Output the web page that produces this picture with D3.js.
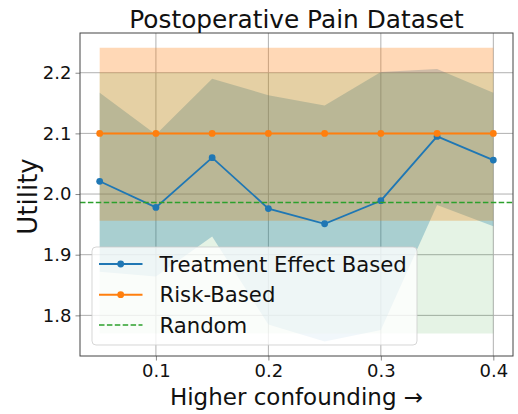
<!DOCTYPE html>
<html>
<head>
<meta charset="utf-8">
<script src="https://cdn.jsdelivr.net/npm/d3@7"></script>
<style>
  html, body { margin: 0; padding: 0; background: #fff; }
  svg { display: block; font-family: "DejaVu Sans", sans-serif; }
</style>
</head>
<body>
<svg id="chart" width="518" height="414"></svg>
<script>
// ---- data ----
const confounding = [0.05, 0.10, 0.15, 0.20, 0.25, 0.30, 0.35, 0.40];
const teUtility = [2.021, 1.978, 2.060, 1.976, 1.951, 1.989, 2.095, 2.056];
const teLower   = [1.872, 1.864, 1.930, 1.785, 1.757, 1.776, 1.982, 1.947];
const teUpper   = [2.167, 2.098, 2.190, 2.163, 2.146, 2.201, 2.206, 2.167];
const riskUtility = [2.1, 2.1, 2.1, 2.1, 2.1, 2.1, 2.1, 2.1];
const riskLower   = [1.956, 1.956, 1.956, 1.956, 1.956, 1.956, 1.956, 1.956];
const riskUpper   = [2.241, 2.241, 2.241, 2.241, 2.241, 2.241, 2.241, 2.241];
const randomUtility = 1.986;
const randomLower = 1.770;
const randomUpper = 2.200;
const xTicks = [0.1, 0.2, 0.3, 0.4];
const yTicks = [1.8, 1.9, 2.0, 2.1, 2.2];
const seriesNames = ["Treatment Effect Based", "Risk-Based", "Random"];

// ---- layout ----
const svg = d3.select("#chart");
const L = 80, R = 513, T = 33, B = 356;
const x = d3.scaleLinear().domain([0.0325, 0.4175]).range([L, R]);
const y = d3.scaleLinear().domain([1.733, 2.2655]).range([B, T]);

const colBlue = "#1f77b4", colOrange = "#ff7f0e", colGreen = "#2ca02c";

// grid
const grid = svg.append("g");
grid.selectAll(".gx").data(xTicks).enter().append("line")
  .attr("x1", d => x(d)).attr("x2", d => x(d)).attr("y1", T).attr("y2", B)
  .attr("stroke", "#b0b0b0").attr("stroke-width", 1);
grid.selectAll(".gy").data(yTicks).enter().append("line")
  .attr("x1", L).attr("x2", R).attr("y1", d => y(d)).attr("y2", d => y(d))
  .attr("stroke", "#b0b0b0").attr("stroke-width", 1);

// bands
const idx = d3.range(confounding.length);
const area = (lo, hi) => d3.area()
  .x(i => x(confounding[i])).y0(i => y(lo(i))).y1(i => y(hi(i)));

svg.append("path").attr("d", area(i => teLower[i], i => teUpper[i])(idx))
  .attr("fill", colBlue).attr("fill-opacity", 0.3);
svg.append("path").attr("d", area(i => riskLower[i], i => riskUpper[i])(idx))
  .attr("fill", colOrange).attr("fill-opacity", 0.3);
svg.append("path").attr("d", area(() => randomLower, () => randomUpper)(idx))
  .attr("fill", colGreen).attr("fill-opacity", 0.12);

// lines
const line = acc => d3.line().x(i => x(confounding[i])).y(i => y(acc(i)));
svg.append("path").attr("d", line(i => teUtility[i])(idx))
  .attr("fill", "none").attr("stroke", colBlue).attr("stroke-width", 1.8);
svg.selectAll(".mb").data(idx).enter().append("circle")
  .attr("cx", i => x(confounding[i])).attr("cy", i => y(teUtility[i]))
  .attr("r", 3.4).attr("fill", colBlue);
svg.append("path").attr("d", line(i => riskUtility[i])(idx))
  .attr("fill", "none").attr("stroke", colOrange).attr("stroke-width", 2);
svg.selectAll(".mo").data(idx).enter().append("circle")
  .attr("cx", i => x(confounding[i])).attr("cy", i => y(riskUtility[i]))
  .attr("r", 3.4).attr("fill", colOrange);
svg.append("line").attr("x1", L).attr("x2", R)
  .attr("y1", y(randomUtility)).attr("y2", y(randomUtility))
  .attr("stroke", colGreen).attr("stroke-width", 1.6).attr("stroke-dasharray", "5.5,2.4");

// axes
const xAxis = d3.axisBottom(x).tickValues(xTicks).tickFormat(d3.format(".1f")).tickSize(4.5).tickPadding(4);
const yAxis = d3.axisLeft(y).tickValues(yTicks).tickFormat(d3.format(".1f")).tickSize(4.5).tickPadding(4);
const gx = svg.append("g").attr("transform", `translate(0,${B})`).call(xAxis);
const gy = svg.append("g").attr("transform", `translate(${L},0)`).call(yAxis);
[gx, gy].forEach(g => {
  g.select(".domain").remove();
  g.selectAll(".tick line").attr("stroke", "#888");
  g.selectAll(".tick text").attr("font-size", 18).attr("fill", "#111")
    .attr("font-family", "DejaVu Sans");
});

// frame
svg.append("rect").attr("x", L).attr("y", T).attr("width", R - L).attr("height", B - T)
  .attr("fill", "none").attr("stroke", "#444").attr("stroke-width", 1);

// title and labels
svg.append("text").attr("x", (L + R) / 2).attr("y", 27.5).attr("text-anchor", "middle")
  .attr("font-size", 24.8).attr("fill", "#111").text("Postoperative Pain Dataset");
svg.append("text").attr("x", (L + R) / 2).attr("y", 405).attr("text-anchor", "middle")
  .attr("font-size", 23).attr("fill", "#111").text("Higher confounding \u2192");
svg.append("text").attr("transform", `translate(37,${(T + B) / 2 + 2}) rotate(-90)`)
  .attr("text-anchor", "middle").attr("font-size", 26).attr("fill", "#111").text("Utility");

// legend
const lg = svg.append("g");
lg.append("rect").attr("x", 92).attr("y", 247).attr("width", 325).attr("height", 98)
  .attr("rx", 4).attr("fill", "#fff").attr("fill-opacity", 0.8)
  .attr("stroke", "#ccc").attr("stroke-opacity", 0.8).attr("stroke-width", 1);
const rows = [264, 294.7, 325];
const cols = [colBlue, colOrange, colGreen];
seriesNames.forEach((name, i) => {
  const ry = rows[i];
  const ln = lg.append("line").attr("x1", 99).attr("x2", 142.5).attr("y1", ry).attr("y2", ry)
    .attr("stroke", cols[i]).attr("stroke-width", i === 2 ? 1.6 : 2);
  if (i === 2) ln.attr("stroke-dasharray", "5.5,2.4");
  else lg.append("circle").attr("cx", 120.7).attr("cy", ry).attr("r", 3.4).attr("fill", cols[i]);
  lg.append("text").attr("x", 159.5).attr("y", ry).attr("dy", "0.36em")
    .attr("font-size", 21.2).attr("fill", "#111").text(name);
});
</script>
</body>
</html>
